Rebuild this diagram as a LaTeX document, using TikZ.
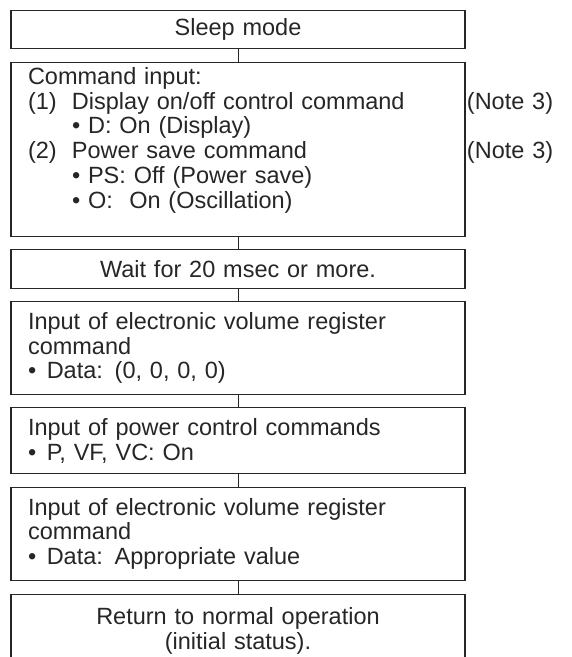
\documentclass[tikz,border=0pt]{standalone}
\usepackage{fontspec}
\setmainfont{Liberation Sans}
\usetikzlibrary{positioning}
\definecolor{inkgray}{HTML}{262626}
\newcommand{\padbelow}[1]{\rule[-#1]{0pt}{0pt}}
\newcommand{\noteline}[1]{\makebox[420pt][l]{#1}\rlap{\hspace{19pt}(Note 3)}}

\begin{document}
\begin{tikzpicture}[x=1pt,y=1pt,node distance=12.3pt,
  flowbox/.style={draw=inkgray,line width=1.2pt,text=inkgray,
    minimum width=454pt,text width=420pt,inner xsep=17pt,inner ysep=0pt,
    font=\fontsize{23.5}{24.8}\selectfont},
  leftbox/.style={flowbox,align=left},
  midbox/.style={flowbox,align=center},
  link/.style={draw=inkgray,line width=1pt}]
  \useasboundingbox (0,0) rectangle (572,-657);
  \clip (0,0) rectangle (572,-657);

  % Boxes, top to bottom
  \node[midbox,minimum height=38pt,anchor=north] (sleep) at (238,-10.1) {Sleep mode};
  \node[leftbox,minimum height=174pt,below=of sleep] (cmdin) {Command input:\\
    \noteline{\makebox[44pt][l]{(1)}Display on/off control command}\\
    \hspace*{44pt}• D: On (Display)\\
    \noteline{\makebox[44pt][l]{(2)}Power save command}\\
    \hspace*{44pt}• PS: Off (Power save)\\
    \hspace*{44pt}• O:\hspace{0.7em}On (Oscillation)\padbelow{23pt}};
  \node[midbox,minimum height=38.6pt,below=of cmdin] (wait) {Wait for 20 msec or more.};
  \node[leftbox,minimum height=92.3pt,below=of wait] (evrzero) {Input of electronic volume register\\
    command\\
    •\hspace{0.45em}Data: (0, 0, 0, 0)};
  \node[leftbox,minimum height=66pt,below=of evrzero] (pwrctl) {Input of power control commands\\
    •\hspace{0.45em}P, VF, VC: On};
  \node[leftbox,minimum height=93.6pt,below=of pwrctl] (evrset) {Input of electronic volume register\\
    command\\
    •\hspace{0.45em}Data: Appropriate value};
  \node[midbox,minimum height=74pt,below=of evrset] (normal) {Return to normal operation\\
    (initial status).};

  % Connectors
  \foreach \a/\b in {sleep/cmdin,cmdin/wait,wait/evrzero,evrzero/pwrctl,pwrctl/evrset,evrset/normal}
    \draw[link] (\a.south) -- (\b.north);
\end{tikzpicture}
\end{document}
